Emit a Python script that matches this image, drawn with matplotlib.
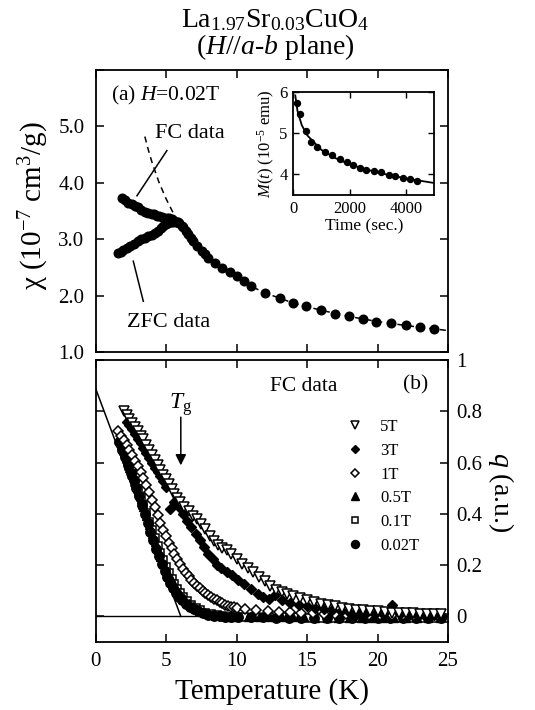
import matplotlib
matplotlib.use("Agg")
import matplotlib.pyplot as plt

plt.rcParams['font.family'] = ['Liberation Serif', 'DejaVu Serif']
plt.rcParams['mathtext.fontset'] = 'custom'
plt.rcParams['mathtext.rm'] = 'Liberation Serif'
plt.rcParams['mathtext.it'] = 'Liberation Serif:italic'
plt.rcParams['mathtext.bf'] = 'Liberation Serif:bold'

# ---------------- data: panel (a) ----------------
T_fc = [1.85, 2.1, 2.3, 2.56, 2.8, 3.03, 3.25, 3.5, 3.75, 3.98, 4.15, 4.33, 4.5, 4.69, 4.87,
        5.04, 5.22, 5.4, 5.57, 5.75, 5.92, 6.1, 6.22, 6.4, 6.57, 6.75, 6.93, 7.2, 7.52, 7.75,
        7.99, 8.46, 8.94, 9.53, 10.0, 10.5, 11.06, 12.0, 13.07, 14.0, 14.96, 16.0, 16.96, 18.0,
        18.97, 19.9, 20.98, 22.0, 22.98, 24.04]
chi_fc = [3.73, 3.69, 3.65, 3.62, 3.59, 3.57, 3.52, 3.48, 3.46, 3.45, 3.44, 3.42, 3.41, 3.40, 3.38,
          3.37, 3.37, 3.36, 3.33, 3.31, 3.28, 3.24, 3.21, 3.15, 3.09, 3.03, 2.97, 2.88, 2.79, 2.73,
          2.67, 2.58, 2.49, 2.41, 2.34, 2.26, 2.17, 2.05, 1.95, 1.87, 1.81, 1.74, 1.68, 1.64,
          1.58, 1.53, 1.51, 1.47, 1.44, 1.41]
T_zfc = [1.62, 1.8, 1.97, 2.2, 2.44, 2.7, 3.03, 3.25, 3.5, 3.75, 3.98, 4.2, 4.45, 4.62, 4.8,
         4.98, 5.16, 5.33, 5.5, 5.7, 5.87]
chi_zfc = [2.76, 2.78, 2.81, 2.85, 2.88, 2.92, 2.97, 3.0, 3.03, 3.05, 3.07, 3.11, 3.15, 3.2, 3.24,
           3.27, 3.29, 3.3, 3.31, 3.31, 3.30]
# Curie-Weiss dashed curve
T_cw = [3.5, 3.75, 4.0, 4.5, 5.0, 5.5, 6.0, 6.5, 7.0, 8.0, 9.0, 10.0, 11.0, 12.0, 14.0, 16.0,
        18.0, 20.0, 22.0, 24.0, 25.0]
chi_cw = [4.82, 4.58, 4.37, 4.01, 3.72, 3.47, 3.26, 3.08, 2.93, 2.67, 2.47, 2.30, 2.17, 2.05,
          1.87, 1.74, 1.63, 1.54, 1.47, 1.41, 1.38]

# inset: M(t)
t_in = [120, 220, 440, 610, 850, 1130, 1370, 1650, 1900, 2120, 2350, 2580, 2870, 3100, 3390,
        3620, 3900, 4140, 4390]
M_in = [5.72, 5.45, 5.06, 4.78, 4.65, 4.53, 4.46, 4.38, 4.30, 4.22, 4.16, 4.11, 4.08, 4.06, 3.99,
        3.96, 3.92, 3.89, 3.85]
t_fit = [70, 150, 300, 500, 1000, 1500, 2000, 3000, 4000, 5000]
M_fit = [5.91, 5.53, 5.19, 4.94, 4.59, 4.39, 4.24, 4.04, 3.90, 3.79]

# ---------------- data: panel (b) ----------------
T_5T = [2.0, 2.2, 2.4, 2.6, 2.8, 3.0, 3.2, 3.4, 3.6, 3.8, 4.0, 4.2, 4.4, 4.6, 4.8, 5.0, 5.2, 5.4,
        5.6, 5.8, 6.0, 6.3, 6.6, 6.9, 7.2, 7.5, 7.8, 8.1, 8.4, 8.7, 9.0, 9.3, 9.6, 10.0, 10.4,
        10.8, 11.2, 11.6, 12.0, 12.4, 12.8, 13.2, 13.6, 14.0, 14.5, 15.0, 15.5, 16.0, 16.5, 17.0,
        17.5, 18.0, 18.5, 19.0, 19.5, 20.0, 20.5, 21.0, 21.5, 22.0, 22.5, 23.0, 23.5, 24.0, 24.5]
q_5T = [0.80, 0.785, 0.77, 0.755, 0.74, 0.725, 0.705, 0.69, 0.67, 0.65, 0.63, 0.61, 0.59, 0.57,
        0.55, 0.535, 0.515, 0.495, 0.478, 0.462, 0.447, 0.428, 0.41, 0.393, 0.378, 0.36, 0.34,
        0.315, 0.295, 0.28, 0.268, 0.257, 0.243, 0.222, 0.203, 0.188, 0.172, 0.153, 0.137, 0.12,
        0.103, 0.094, 0.086, 0.078, 0.07, 0.062, 0.055, 0.05, 0.045, 0.04, 0.034, 0.03, 0.026,
        0.024, 0.021, 0.019, 0.017, 0.015, 0.014, 0.012, 0.012, 0.011, 0.01, 0.01, 0.01]

T_3T = [2.2, 2.4, 2.6, 2.8, 3.0, 3.2, 3.4, 3.6, 3.8, 4.0, 4.2, 4.4, 4.6, 4.8, 5.0, 5.3, 5.6, 5.9,
        6.2, 6.5, 6.8, 7.1, 7.4, 7.7, 8.0, 8.3, 8.6, 8.9, 9.3, 9.7, 10.1, 10.5, 11.0, 11.5, 11.9,
        12.3, 12.7, 13.2, 13.8, 14.4, 15.0, 15.6, 16.2, 16.8, 17.4, 18.0, 18.6, 19.2, 19.8, 20.4,
        21.0, 21.6, 22.2, 22.8, 23.4, 24.0, 24.6]
q_3T = [0.76, 0.745, 0.73, 0.712, 0.693, 0.676, 0.657, 0.637, 0.617, 0.598, 0.58, 0.563, 0.546,
        0.528, 0.505, 0.42, 0.445, 0.425, 0.398, 0.372, 0.348, 0.322, 0.296, 0.27, 0.245, 0.222,
        0.2, 0.19, 0.175, 0.16, 0.142, 0.126, 0.105, 0.088, 0.075, 0.068, 0.085, 0.062, 0.052,
        0.046, 0.04, 0.034, 0.03, 0.025, 0.02, 0.018, 0.015, 0.012, 0.01, 0.008, 0.043, 0.008,
        0.005, 0.004, 0.003, 0.004, 0.002]

T_1T = [1.6, 1.8, 2.0, 2.2, 2.4, 2.6, 2.8, 3.0, 3.2, 3.4, 3.6, 3.8, 4.0, 4.2, 4.4, 4.6, 4.8, 5.0,
        5.2, 5.4, 5.6, 5.8, 6.0, 6.2, 6.4, 6.6, 6.8, 7.0, 7.2, 7.4, 7.6, 7.8, 8.0, 8.2, 8.4, 8.6,
        8.8, 9.0, 9.2, 9.4, 9.6, 9.8, 10.0, 10.6, 11.4, 12.2, 13.0, 13.8, 14.6, 15.4, 16.2, 17.0,
        17.8, 18.6, 19.4, 20.2, 21.0, 21.8, 22.6, 23.4, 24.2]
q_1T = [0.725, 0.705, 0.688, 0.668, 0.648, 0.628, 0.607, 0.585, 0.562, 0.538, 0.512, 0.485,
        0.455, 0.425, 0.395, 0.365, 0.338, 0.312, 0.288, 0.265, 0.243, 0.222, 0.203, 0.186, 0.17,
        0.156, 0.143, 0.131, 0.12, 0.11, 0.1, 0.091, 0.083, 0.075, 0.068, 0.062, 0.056, 0.051,
        0.046, 0.042, 0.038, 0.035, 0.032, 0.028, 0.024, 0.021, 0.018, 0.016, 0.014, 0.012,
        0.011, 0.01, 0.009, 0.008, 0.007, 0.006, 0.006, 0.005, 0.005, 0.004, 0.004]

T_05T = [1.8, 2.0, 2.2, 2.4, 2.6, 2.8, 3.0, 3.2, 3.4, 3.6, 3.8, 4.0, 4.2, 4.4, 4.6, 4.8, 5.0, 5.2,
         5.4, 5.6, 5.8, 6.0, 6.3, 6.6, 6.9, 7.2, 7.6, 8.0, 8.5, 9.0, 9.5, 10.0, 10.8, 11.6, 12.4,
         13.2, 14.0, 14.8, 15.6, 16.4, 17.2, 18.0, 18.8, 19.6, 20.4, 21.2, 22.0, 22.8, 23.6, 24.4]
q_05T = [0.67, 0.64, 0.61, 0.58, 0.55, 0.52, 0.49, 0.458, 0.425, 0.39, 0.356, 0.322, 0.29, 0.26,
         0.232, 0.206, 0.182, 0.16, 0.14, 0.121, 0.104, 0.089, 0.07, 0.053, 0.04, 0.029, 0.018,
         0.01, 0.004, 0.001, -0.001, -0.002, -0.003, -0.003, -0.003, -0.004, -0.004, -0.004,
         -0.005, -0.005, -0.005, -0.005, -0.006, -0.006, -0.006, -0.006, -0.006, -0.007, -0.007,
         -0.007]

T_01T = [1.8, 2.0, 2.2, 2.4, 2.6, 2.8, 3.0, 3.2, 3.4, 3.6, 3.8, 4.0, 4.2, 4.4, 4.6, 4.8, 5.0, 5.2,
         5.4, 5.6, 5.8, 6.0, 6.2, 6.5, 6.8, 7.1, 7.4, 7.8, 8.2, 8.6, 9.0, 9.4, 9.8, 10.5, 11.4,
         12.3, 13.2, 14.1, 15.0, 15.9, 16.8, 17.7, 18.6, 19.5, 20.4, 21.3, 22.2, 23.1, 24.0, 24.9]
q_01T = [0.675, 0.645, 0.615, 0.585, 0.555, 0.525, 0.495, 0.465, 0.435, 0.403, 0.37, 0.337,
         0.305, 0.275, 0.246, 0.218, 0.192, 0.168, 0.146, 0.126, 0.108, 0.092, 0.077, 0.06, 0.045,
         0.033, 0.024, 0.015, 0.009, 0.004, 0.001, -0.001, -0.002, -0.003, -0.003, -0.004,
         -0.004, -0.004, -0.005, -0.005, -0.005, -0.005, -0.006, -0.006, -0.006, -0.006, -0.007,
         -0.007, -0.007, -0.006]

T_002T = [1.7, 1.9, 2.1, 2.3, 2.5, 2.7, 2.9, 3.1, 3.3, 3.5, 3.7, 3.9, 4.1, 4.3, 4.5, 4.7, 4.9,
          5.1, 5.3, 5.5, 5.7, 5.9, 6.1, 6.4, 6.7, 7.0, 7.3, 7.6, 8.0, 8.4, 8.8, 9.2, 9.6, 10.1,
          11.0, 11.9, 12.8, 13.7, 14.6, 15.5, 16.4, 17.3, 18.2, 19.1, 20.0, 20.9, 21.8, 22.7,
          23.6, 24.5]
q_002T = [0.68, 0.65, 0.62, 0.59, 0.56, 0.53, 0.5, 0.468, 0.435, 0.4, 0.365, 0.33, 0.296, 0.264,
          0.234, 0.205, 0.178, 0.153, 0.13, 0.11, 0.092, 0.077, 0.063, 0.048, 0.036, 0.027, 0.019,
          0.013, 0.007, 0.003, 0.0, -0.002, -0.003, -0.004, -0.004, -0.004, -0.005, -0.005,
          -0.005, -0.005, -0.006, -0.006, -0.006, -0.007, -0.007, -0.007, -0.008, -0.008, -0.008,
          -0.008]

# linear Tg extrapolation line (T, q)
T_lin = [0.0, 6.05]
q_lin = [0.89, 0.0]
Tg = 6.05

field_labels = ['5T', '3T', '1T', '0.5T', '0.1T', '0.02T']

# ---------------- figure ----------------
W, H = 535, 710
fig = plt.figure(figsize=(W / 100, H / 100), dpi=100)

def box(l, t, r, b):
    return [l / W, 1 - b / H, (r - l) / W, (b - t) / H]

ax_a = fig.add_axes(box(95.5, 70, 448, 352))
ax_b = fig.add_axes(box(95.5, 360, 448, 642))
ax_in = fig.add_axes(box(293.3, 91.7, 434.3, 195))

for ax in (ax_a, ax_b, ax_in):
    for s in ax.spines.values():
        s.set_linewidth(1.3)

# ----- panel (a) -----
ax_a.plot(T_cw, chi_cw, ls=(0, (4, 3)), color='black', lw=1.1, zorder=2)
ax_a.plot(T_fc, chi_fc, 'o', color='black', ms=6.2, zorder=3)
ax_a.plot(T_zfc, chi_zfc, 'o', color='black', ms=6.2, zorder=3)
ax_a.set_xlim(0, 25)
ax_a.set_ylim(1.0, 6.0)
ax_a.set_xticks([0, 5, 10, 15, 20, 25])
ax_a.set_yticks([1, 2, 3, 4, 5, 6])
ax_a.set_yticklabels(['1.0', '2.0', '3.0', '4.0', '5.0', ''])
ax_a.tick_params(direction='in', top=True, right=True, length=6, width=1.1,
                 labelbottom=False, labelsize=15, pad=8)
# annotation strokes
ax_a.plot([2.94, 5.06], [3.77, 4.57], color='black', lw=1.1)
ax_a.plot([2.68, 3.39], [2.61, 1.90], color='black', lw=1.1)
ax_a.text(4.2, 4.87, 'FC data', fontsize=16, va='center', ha='left')
ax_a.text(2.2, 1.52, 'ZFC data', fontsize=16, va='center', ha='left')
ax_a.text(0.043, 0.911, '(a) $H$=0.02T', transform=ax_a.transAxes, fontsize=15.5,
          va='center', ha='left')
fig.text(34 / W, 1 - 206 / H, 'χ (10$^{-7}$ cm$^3$/g)', rotation=90, fontsize=21,
         ha='center', va='center')

# ----- inset -----
ax_in.plot(t_fit, M_fit, color='black', lw=1.3, zorder=2)
ax_in.plot(t_in, M_in, 'o', color='black', ms=4.3, zorder=3)
ax_in.set_xlim(0, 5000)
ax_in.set_ylim(3.5, 6.0)
ax_in.set_xticks([0, 2000, 4000])
ax_in.set_yticks([4, 5, 6])
ax_in.tick_params(direction='in', top=True, right=True, length=4, width=1.0,
                  labelsize=12, pad=4)
ax_in.set_xlabel('Time (sec.)', fontsize=12.5, labelpad=1)
ax_in.set_ylabel('$M$($t$) (10$^{-5}$ emu)', fontsize=12, labelpad=2)

# ----- panel (b) -----
ax_b.axhline(0, color='black', lw=1.0, zorder=1)
ax_b.plot(T_lin, q_lin, color='black', lw=1.1, zorder=1)
h01, = ax_b.plot(T_01T, q_01T, 's', mfc='white', mec='black', mew=1.1, ms=5.2, zorder=2,
                 label='0.1T')
h05, = ax_b.plot(T_05T, q_05T, '^', color='black', ms=6, zorder=3, label='0.5T')
h002, = ax_b.plot(T_002T, q_002T, 'o', color='black', ms=6.8, zorder=3, label='0.02T')
h1, = ax_b.plot(T_1T, q_1T, 'D', mfc='white', mec='black', mew=1.1, ms=4.8, zorder=4,
                label='1T')
h3, = ax_b.plot(T_3T, q_3T, 'D', color='black', ms=5.2, zorder=5, label='3T')
h5, = ax_b.plot(T_5T, q_5T, 'v', mfc='white', mec='black', mew=1.1, ms=6.5, zorder=6,
                label='5T')
ax_b.set_xlim(0, 25)
ax_b.set_ylim(-0.1, 1.0)
ax_b.set_xticks([0, 5, 10, 15, 20, 25])
ax_b.set_yticks([0, 0.2, 0.4, 0.6, 0.8, 1.0])
ax_b.set_yticklabels(['0', '0.2', '0.4', '0.6', '0.8', '1'])
ax_b.tick_params(direction='in', top=True, right=True, left=True, length=6, width=1.1,
                 labelleft=False, labelright=True, labelsize=15)
ax_b.tick_params(axis='x', pad=7)
ax_b.tick_params(axis='y', pad=6)
ax_b.set_xlabel('Temperature (K)', fontsize=21, labelpad=5)
fig.text(501 / W, 1 - 492 / H, '$q$ (a.u.)', rotation=-90, fontsize=20,
         ha='center', va='center')

ax_b.text(0.495, 0.905, 'FC data', transform=ax_b.transAxes, fontsize=15.5,
          va='center', ha='left')
ax_b.text(0.873, 0.911, '(b)', transform=ax_b.transAxes, fontsize=15.5,
          va='center', ha='left')
ax_b.annotate('', xy=(Tg, 0.589), xytext=(Tg, 0.777),
              arrowprops=dict(arrowstyle='-|>', color='black', lw=1.1,
                              mutation_scale=16, shrinkA=0, shrinkB=0))
ax_b.text(Tg, 0.826, r'$T_{\rm g}$', fontsize=17, ha='center', va='center')

handles = [h5, h3, h1, h05, h01, h002]
leg = ax_b.legend(handles, field_labels, loc='upper left', bbox_to_anchor=(0.7126, 0.79),
                  frameon=False, fontsize=12, handlelength=1.0, handletextpad=1.0,
                  labelspacing=0.46, borderpad=0, borderaxespad=0, markerscale=0.85,
                  numpoints=1)

fig.text(275 / W, 1 - 7 / H,
         'La$_{1.97}$Sr$_{0.03}$CuO$_4$\n($H$//$a$-$b$ plane)',
         fontsize=20, ha='center', va='top', multialignment='center', linespacing=0.95)

fig.savefig('out.png', dpi=100)
